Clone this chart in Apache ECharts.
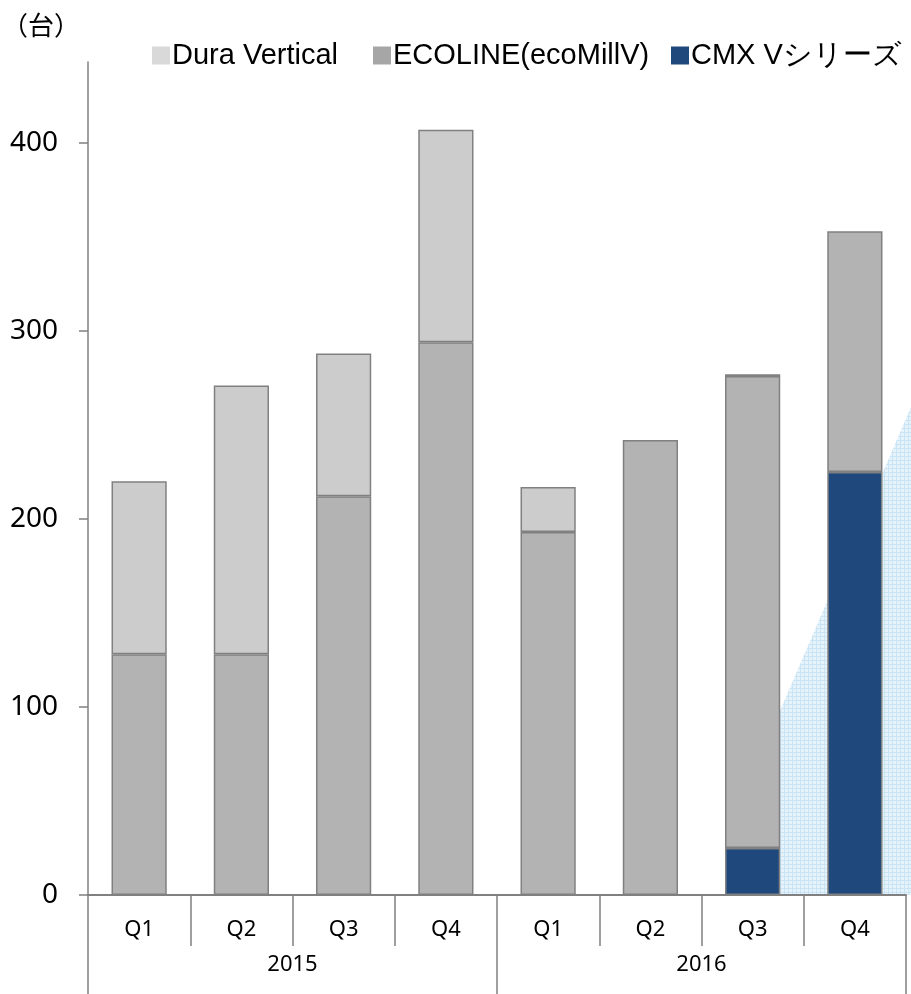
<!DOCTYPE html>
<html><head><meta charset="utf-8">
<script src="https://cdn.jsdelivr.net/npm/echarts@6/dist/echarts.min.js"></script>
<style>html,body{margin:0;padding:0;background:#fff}#c{width:911px;height:994px}</style>
</head><body><div id="c"></div>
<script>
const quarters = ['Q1','Q2','Q3','Q4','Q1','Q2','Q3','Q4'];
const years = ['2015','2016'];
const cmx = [0,0,0,0,0,0,25,225];
const ecoline = [128,128,212,294,193,242,251,128];
const dura = [92,143,76,113,24,0,1,0];
const yTicks = [0,100,200,300,400];

const chart = echarts.init(document.getElementById('c'));
const gridL = 88, gridR = 5, gridT = 62, gridB = 99;

// dotted light-blue pattern
const pc = document.createElement('canvas');
pc.width = 4; pc.height = 4;
const pctx = pc.getContext('2d');
pctx.fillStyle = '#e6f3fb'; pctx.fillRect(0,0,4,4);
pctx.fillStyle = '#c9e4f4'; pctx.fillRect(0,0,1,4); pctx.fillRect(0,0,4,1);

const border = {borderColor:'#808080', borderWidth:1.5};
const legendText = {fontSize:29, color:'#000', fontFamily:'Liberation Sans', padding:[0,0,0,-3]};
function leg(name, color, left){
  return {top:36, left:left, itemWidth:18, itemHeight:18, icon:'rect',
    textStyle:legendText, data:[{name:name, itemStyle:{color:color, borderWidth:0}}]};
}
chart.setOption({
  animation:false,
  textStyle:{fontFamily:'Liberation Sans'},
  grid:{left:gridL, right:gridR, top:gridT, bottom:gridB},
  legend:[
    leg('Dura Vertical', '#d9d9d9', 147),
    leg('ECOLINE(ecoMillV)', '#a6a6a6', 368),
    leg('CMX Vシリーズ', '#1f497d', 666)
  ],
  graphic:[
    {type:'text', left:2, top:12, style:{text:'（台）', fontSize:26, fill:'#000', fontFamily:'Noto Sans CJK JP'}},
    {type:'polygon', z:-1, shape:{points:[[779,713],[911,407],[911,895],[779,895]]},
      style:{fill:{image:pc, repeat:'repeat'}}}
  ],
  xAxis:[
    {type:'category', data:quarters, position:'bottom',
      axisLine:{show:true, lineStyle:{color:'#808080', width:2}},
      axisTick:{show:true, interval:0, length:51, lineStyle:{color:'#808080', width:1.5}},
      axisLabel:{interval:0, fontSize:22, color:'#000', margin:24, fontFamily:'Noto Sans'}},
    {type:'category', data:years, position:'bottom', gridIndex:0,
      axisLine:{show:false},
      axisTick:{show:true, interval:0, length:99, lineStyle:{color:'#808080', width:1.5}},
      axisLabel:{interval:0, fontSize:22, color:'#000', margin:59, fontFamily:'Noto Sans'}}
  ],
  yAxis:{type:'value', min:0, max:443, interval:100,
    axisLine:{show:true, lineStyle:{color:'#808080', width:1.5}},
    axisTick:{show:true, length:9, lineStyle:{color:'#808080', width:1.5}},
    splitLine:{show:false},
    axisLabel:{fontSize:28, color:'#000', margin:30, fontFamily:'Noto Sans', showMaxLabel:false,
      formatter:v=> yTicks.includes(v) ? String(v) : ''}},
  series:[
    {name:'CMX Vシリーズ', type:'bar', stack:'a', barWidth:'54%', data:cmx.map(v=>v||null),
      itemStyle:Object.assign({color:'#1f497d'}, border)},
    {name:'ECOLINE(ecoMillV)', type:'bar', stack:'a', barWidth:'54%', data:ecoline,
      itemStyle:Object.assign({color:'#b3b3b3'}, border)},
    {name:'Dura Vertical', type:'bar', stack:'a', barWidth:'54%', data:dura.map(v=>v||null),
      itemStyle:Object.assign({color:'#cccccc'}, border)}
  ]
});
</script></body></html>
